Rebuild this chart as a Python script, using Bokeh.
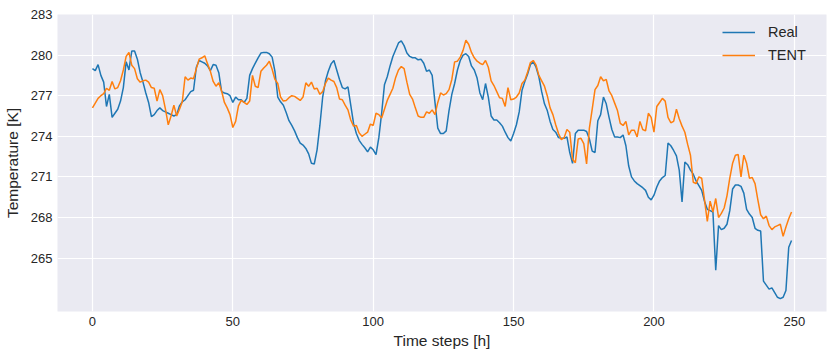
from bokeh.plotting import figure
from bokeh.models import Range1d, FixedTicker, Legend, LegendItem
from bokeh.embed import file_html
from bokeh.resources import INLINE

real = [
    279.0, 278.85, 279.3, 278.5, 278.0, 276.2, 277.1, 275.4, 275.7, 276.0,
    276.6, 277.6, 279.5, 278.9, 280.3, 280.3, 279.7, 278.7, 278.0, 277.2,
    276.5, 275.45, 275.6, 275.9, 276.1, 275.9, 275.8, 275.7, 275.6, 275.5,
    275.6, 276.25, 276.55, 276.7, 277.0, 277.3, 277.4, 279.1, 279.6, 279.5,
    279.4, 279.2, 278.85, 279.3, 279.25, 278.7, 277.3, 277.2, 277.15, 277.0,
    276.5, 276.9, 276.7, 276.7, 276.5, 276.8, 278.5, 279.0, 279.4, 279.8,
    280.15, 280.2, 280.2, 280.1, 279.85, 278.8, 276.9, 276.55, 276.3, 275.75,
    275.15, 274.8, 274.4, 273.9, 273.5, 273.35, 273.1, 272.7, 272.0, 271.95,
    273.0, 274.8, 276.9, 278.1, 278.8, 279.35, 279.6, 278.9, 278.2, 277.6,
    277.5, 277.65, 276.3, 274.95, 274.2, 273.7, 273.4, 273.15, 272.85, 273.2,
    273.0, 272.65, 273.9, 275.7, 277.8, 278.4, 279.2, 279.9, 280.4, 280.9,
    281.05, 280.7, 280.15, 279.9, 279.8, 279.8, 279.65, 279.7, 279.4, 278.8,
    278.9, 278.5, 276.5, 274.6, 274.2, 274.2, 274.4, 275.9, 277.1, 277.9,
    278.9, 279.6, 280.0, 280.1, 279.9, 279.2, 278.9, 278.3, 277.2, 276.7,
    277.9, 276.9, 275.5, 275.2, 275.2, 275.0, 274.75, 274.3, 273.9, 273.65,
    274.2, 274.85, 275.8, 277.4, 278.05, 278.6, 279.3, 279.5, 279.1, 278.4,
    277.3, 276.4, 275.9, 275.1, 274.5, 274.3, 273.9, 273.85, 273.85, 273.95,
    272.8, 272.0, 274.2, 274.45, 274.45, 274.45, 274.35, 273.8, 272.9, 272.8,
    275.15, 275.6, 276.9, 276.4, 275.4, 274.5, 273.95, 273.95, 273.9, 274.1,
    273.3, 271.8, 271.0, 270.7, 270.5, 270.35, 270.2, 270.0, 269.5, 269.3,
    269.65, 270.25, 270.7, 270.95, 271.1, 273.5, 273.3, 272.95, 272.55, 271.5,
    269.15, 272.1, 271.9, 271.5, 271.2, 270.7, 270.35, 270.0, 269.2, 268.6,
    268.5, 268.4, 264.1, 267.4, 267.1, 267.2, 267.5, 268.5, 270.1, 270.4,
    270.4, 270.3, 269.8, 268.6, 268.25, 268.0, 267.2, 267.05, 267.0, 263.3,
    263.0, 262.7, 262.8, 262.45, 262.1, 262.0, 262.1, 262.6, 265.8, 266.3,
]

tent = [
    276.1, 276.45, 276.8, 277.0, 277.15, 277.55, 277.4, 278.05, 277.5, 277.6,
    278.1, 278.9, 279.9, 280.2, 279.25, 279.0, 278.25, 278.0, 278.1, 278.15,
    278.0, 277.6, 277.55, 276.6, 277.45, 277.0, 276.0, 274.85, 275.5, 276.3,
    275.5, 276.0, 276.55, 278.4, 278.15, 278.3, 278.25, 279.0, 279.7, 279.8,
    279.95, 279.35, 278.8, 278.05, 277.7, 277.95, 277.35, 276.5, 276.1, 275.6,
    274.65, 275.1, 276.25, 276.65, 276.5, 276.35, 276.6, 278.5, 277.7, 277.6,
    278.8, 279.05, 279.25, 279.55, 278.95, 278.2, 277.9, 276.9, 276.6, 276.65,
    276.85, 277.0, 276.95, 276.8, 276.65, 276.9, 277.95, 277.7, 278.0, 277.5,
    277.55, 277.1, 277.3, 277.9, 278.3, 278.15, 278.05, 277.6, 276.75, 276.7,
    276.3, 275.95, 275.2, 274.75, 274.8, 274.25, 274.0, 274.15, 274.3, 274.9,
    274.8, 275.7, 275.6, 275.35, 276.0, 276.65, 277.1, 277.55, 278.35, 278.9,
    279.15, 279.0, 278.0, 277.1, 276.75, 276.1, 275.5, 275.4, 275.4, 275.8,
    275.7, 275.95, 275.6, 276.5, 277.2, 277.05, 277.15, 277.45, 278.2, 279.5,
    279.55, 279.85, 280.35, 281.1, 280.8, 280.2, 279.8, 279.55, 279.4, 279.3,
    279.6, 279.1, 278.1, 277.75, 277.3, 276.85, 276.8, 276.2, 277.6, 276.7,
    276.75, 276.9, 277.2, 277.9, 278.15, 278.75, 279.45, 279.6, 279.25, 278.5,
    278.1, 277.7, 277.0, 276.1, 275.6, 274.85, 274.2, 273.75, 273.9, 274.5,
    274.3, 272.3, 272.05, 273.8, 273.85, 273.45, 271.95, 274.6, 276.0, 277.45,
    277.75, 278.4, 278.1, 278.2, 277.35, 277.0, 276.45, 275.9, 274.95, 274.8,
    275.1, 274.1, 274.45, 274.45, 273.95, 275.1, 274.5, 274.4, 275.7, 275.4,
    274.3, 276.2, 276.5, 276.8, 276.6, 275.4, 275.0, 275.1, 276.0, 275.3,
    274.75, 274.3, 273.4, 272.6, 270.6, 270.5, 271.0, 270.9, 269.3, 267.7,
    269.2, 268.4, 269.4, 268.0, 268.3, 268.7, 269.6, 270.9, 272.0, 272.6,
    272.65, 271.0, 272.6, 272.0, 270.9, 270.95, 270.5, 269.3, 268.2, 267.9,
    268.1, 267.4, 267.1, 267.3, 267.4, 267.5, 266.6, 267.3, 267.9, 268.4,
]

steps = list(range(len(real)))
x_ticks = [0, 50, 100, 150, 200, 250]
y_ticks = [265, 268, 271, 274, 277, 280, 283]
series_names = ["Real", "TENT"]
series_colors = ["#1f77b4", "#ff7f0e"]

FONT = "Liberation Sans"
TXT = "#262626"

p = figure(width=830, height=356, output_backend="svg", toolbar_location=None,
           x_range=Range1d(-12.45, 261.45), y_range=Range1d(261.05, 283),
           min_border_left=57, min_border_top=14, min_border_right=4, min_border_bottom=45)

p.background_fill_color = "#EAEAF2"
p.border_fill_color = "white"
p.outline_line_color = None

r1 = p.line(steps, real, line_color=series_colors[0], line_width=1.5)
r2 = p.line(steps, tent, line_color=series_colors[1], line_width=1.5)

p.xaxis.ticker = FixedTicker(ticks=x_ticks)
p.yaxis.ticker = FixedTicker(ticks=y_ticks)
p.xaxis.axis_label = "Time steps [h]"
p.yaxis.axis_label = "Temperature [K]"

for ax in (p.xaxis[0], p.yaxis[0]):
    ax.axis_line_color = None
    ax.major_tick_line_color = None
    ax.minor_tick_line_color = None
    ax.major_tick_out = 0
    ax.major_tick_in = 0
    ax.minor_tick_out = 0
    ax.major_label_text_font = FONT
    ax.major_label_text_font_size = "13px"
    ax.major_label_text_color = TXT
    ax.axis_label_text_font = FONT
    ax.axis_label_text_font_size = "15.5px"
    ax.axis_label_text_font_style = "normal"
    ax.axis_label_text_color = TXT
    ax.major_label_standoff = 5
    ax.axis_label_standoff = 3
p.yaxis[0].axis_label_standoff = 7

p.xgrid.grid_line_color = "white"
p.ygrid.grid_line_color = "white"
p.xgrid.grid_line_width = 1.2
p.ygrid.grid_line_width = 1.2

legend = Legend(items=[LegendItem(label=series_names[0], renderers=[r1]),
                       LegendItem(label=series_names[1], renderers=[r2])],
                location="top_right")
legend.border_line_color = None
legend.background_fill_alpha = 0
legend.margin = 8
legend.padding = 9
legend.spacing = 3
legend.glyph_width = 33
legend.label_standoff = 13
legend.label_width = 50
legend.label_text_font = FONT
legend.label_text_font_size = "14.5px"
legend.label_text_color = TXT
p.add_layout(legend)

open("out.html", "w").write(file_html(p, INLINE))
